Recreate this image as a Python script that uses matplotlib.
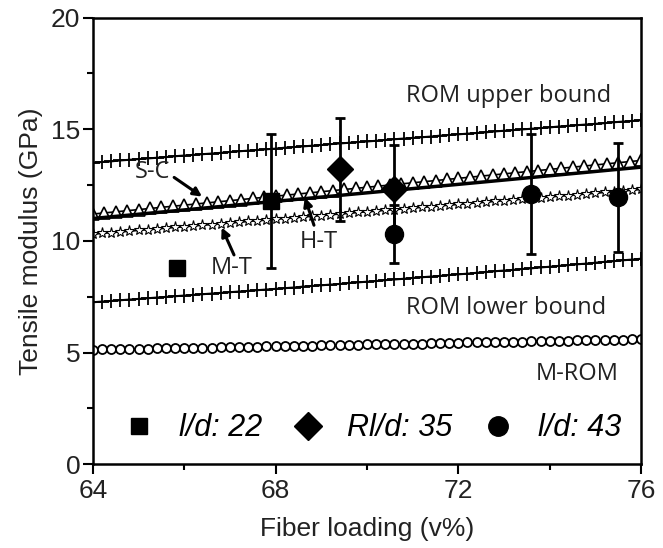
import numpy as np
import matplotlib
matplotlib.use("Agg")
import matplotlib.pyplot as plt
from matplotlib.lines import Line2D
from matplotlib.ticker import MultipleLocator

plt.rcParams['font.family'] = ['Liberation Sans', 'DejaVu Sans']

# model curves (x from 64 to 76 v%)
rom_upper = [13.50, 13.53, 13.56, 13.60, 13.63, 13.66, 13.69, 13.72, 13.75, 13.79,
             13.82, 13.85, 13.88, 13.91, 13.94, 13.98, 14.01, 14.04, 14.07, 14.10,
             14.13, 14.17, 14.20, 14.23, 14.26, 14.29, 14.33, 14.36, 14.39, 14.42,
             14.45, 14.48, 14.52, 14.55, 14.58, 14.61, 14.64, 14.67, 14.71, 14.74,
             14.77, 14.80, 14.83, 14.86, 14.90, 14.93, 14.96, 14.99, 15.02, 15.05,
             15.08, 15.12, 15.15, 15.18, 15.21, 15.24, 15.27, 15.31, 15.34, 15.37,
             15.40]
rom_lower = [7.25, 7.28, 7.31, 7.34, 7.37, 7.40, 7.43, 7.46, 7.49, 7.52,
             7.55, 7.58, 7.61, 7.64, 7.67, 7.70, 7.73, 7.76, 7.79, 7.82,
             7.85, 7.88, 7.91, 7.95, 7.98, 8.01, 8.04, 8.07, 8.11, 8.14,
             8.17, 8.20, 8.24, 8.27, 8.30, 8.34, 8.37, 8.40, 8.43, 8.47,
             8.50, 8.53, 8.57, 8.60, 8.64, 8.67, 8.70, 8.74, 8.77, 8.81,
             8.84, 8.88, 8.91, 8.95, 8.98, 9.02, 9.06, 9.09, 9.13, 9.16,
             9.20]
m_rom = [5.13, 5.14, 5.14, 5.15, 5.16, 5.17, 5.17, 5.18, 5.19, 5.19,
         5.20, 5.21, 5.22, 5.22, 5.23, 5.24, 5.25, 5.25, 5.26, 5.27,
         5.28, 5.29, 5.29, 5.30, 5.31, 5.32, 5.32, 5.33, 5.34, 5.35,
         5.36, 5.37, 5.37, 5.38, 5.39, 5.40, 5.40, 5.41, 5.42, 5.43,
         5.44, 5.45, 5.45, 5.46, 5.47, 5.48, 5.48, 5.49, 5.50, 5.51,
         5.52, 5.53, 5.53, 5.54, 5.55, 5.56, 5.56, 5.57, 5.58, 5.59,
         5.60]
m_t = [10.30, 10.33, 10.37, 10.40, 10.43, 10.47, 10.50, 10.53, 10.57, 10.60,
       10.63, 10.67, 10.70, 10.73, 10.77, 10.80, 10.83, 10.87, 10.90, 10.93,
       10.97, 11.00, 11.03, 11.07, 11.10, 11.13, 11.17, 11.20, 11.23, 11.27,
       11.30, 11.33, 11.37, 11.40, 11.43, 11.47, 11.50, 11.53, 11.57, 11.60,
       11.63, 11.67, 11.70, 11.73, 11.77, 11.80, 11.83, 11.87, 11.90, 11.93,
       11.97, 12.00, 12.03, 12.07, 12.10, 12.13, 12.17, 12.20, 12.23, 12.27,
       12.30]
s_c = [11.20, 11.25, 11.30, 11.35, 11.40, 11.45, 11.50, 11.55, 11.60, 11.65,
       11.70, 11.75, 11.80, 11.85, 11.90, 11.95, 12.00, 12.05, 12.10, 12.15,
       12.20, 12.25, 12.30, 12.35, 12.40, 12.45, 12.50, 12.55, 12.60, 12.65,
       12.70, 12.75, 12.80, 12.85, 12.90, 12.95, 13.00, 13.05, 13.10, 13.15,
       13.20, 13.25, 13.30, 13.35, 13.40, 13.45, 13.50, 13.55, 13.60]
h_t_x = [64, 68, 72, 76]
h_t = [11.00, 11.77, 12.53, 13.30]

# measurements
ld22_x = [67.9]
ld22_y = [11.8]
ld22_err = [3.0]
rld35_x = [69.4, 70.6]
rld35_y = [13.2, 12.3]
rld35_err = [2.3, 2.0]
ld43_x = [70.6, 73.6, 75.5]
ld43_y = [10.3, 12.1, 11.95]
ld43_err = [1.3, 2.7, 2.45]
stray_x = [65.85]
stray_y = [8.8]

def xgrid(vals):
    return np.linspace(64, 76, len(vals))

fig = plt.figure(figsize=(6.63, 5.48), dpi=100)
ax = fig.add_axes([0.140, 0.153, 0.827, 0.815])

ax.plot(xgrid(rom_upper), rom_upper, '-k', lw=1.5, marker='+', ms=10, mew=1.3)
ax.plot(xgrid(rom_lower), rom_lower, '-k', lw=1.5, marker='+', ms=10, mew=1.3)
ax.plot(xgrid(m_rom), m_rom, '-k', lw=1.2, marker='o', ms=6.5, mew=1.3, mfc='white')
ax.plot(xgrid(s_c), s_c, '-k', lw=1.2, marker='^', ms=8.5, mew=1.2, mfc='white')
ax.plot(xgrid(m_t), m_t, '-k', lw=1.2, marker='*', ms=8, mew=0.8, mfc='white')
ax.plot(h_t_x, h_t, '-k', lw=2.5)

eb = dict(fmt='none', ecolor='k', elinewidth=2, capsize=3.5, capthick=2)
ax.errorbar(ld22_x, ld22_y, yerr=ld22_err, **eb)
ax.errorbar(rld35_x, rld35_y, yerr=rld35_err, **eb)
ax.errorbar(ld43_x, ld43_y, yerr=ld43_err, **eb)
ax.plot(ld22_x, ld22_y, 's', color='k', ms=12, zorder=5)
ax.plot(rld35_x, rld35_y, 'D', color='k', ms=13, zorder=5)
ax.plot(ld43_x, ld43_y, 'o', color='k', ms=13, zorder=5)
ax.plot(stray_x, stray_y, 's', color='k', ms=12, zorder=5)

ann = dict(family=['Open Sans', 'DejaVu Sans'], fontsize=17, color='#222222')
ax.text(73.1, 16.5, 'ROM upper bound', ha='center', va='center', **ann)
ax.text(73.05, 7.0, 'ROM lower bound', ha='center', va='center', **ann)
ax.text(74.6, 4.05, 'M-ROM', ha='center', va='center', **ann)
arrow = dict(arrowstyle='-|>,head_length=0.5,head_width=0.25', color='k', lw=2.2,
             shrinkA=0, shrinkB=0)
ax.text(65.3, 13.1, 'S-C', ha='center', va='center', **ann)
ax.annotate('', xy=(66.39, 11.98), xytext=(65.78, 12.84), arrowprops=arrow)
ax.text(68.95, 9.95, 'H-T', ha='center', va='center', **ann)
ax.annotate('', xy=(68.64, 11.94), xytext=(68.84, 10.7), arrowprops=arrow)
ax.text(67.05, 8.8, 'M-T', ha='center', va='center', **ann)
ax.annotate('', xy=(66.82, 10.6), xytext=(67.09, 9.37), arrowprops=arrow)

handles = [Line2D([], [], ls='none', marker='s', color='k', ms=12),
           Line2D([], [], ls='none', marker='D', color='k', ms=14),
           Line2D([], [], ls='none', marker='o', color='k', ms=14)]
ax.legend(handles, ['l/d: 22', 'Rl/d: 35', 'l/d: 43'], ncol=3, frameon=False,
          loc='lower center', bbox_to_anchor=(0.51, -0.015), columnspacing=1.0,
          handlelength=1.0, handletextpad=0.8, prop=dict(style='italic', size=22))

ax.set_xlim(64, 76)
ax.set_ylim(0, 20)
ax.xaxis.set_major_locator(MultipleLocator(4))
ax.xaxis.set_minor_locator(MultipleLocator(2))
ax.yaxis.set_major_locator(MultipleLocator(5))
ax.yaxis.set_minor_locator(MultipleLocator(2.5))
ax.tick_params(which='major', direction='out', length=7, width=1.5, labelsize=19,
               labelcolor='#222222')
ax.tick_params(axis='x', which='major', pad=4)
ax.tick_params(axis='y', which='major', pad=2)
ax.tick_params(which='minor', direction='out', length=4, width=1.5)
for s in ax.spines.values():
    s.set_linewidth(1.8)
ax.set_xlabel('Fiber loading (v%)', fontsize=19, labelpad=10, color='#222222')
ax.set_ylabel('Tensile modulus (GPa)', fontsize=19, labelpad=6, color='#222222')

fig.savefig('out.png', dpi=100)
